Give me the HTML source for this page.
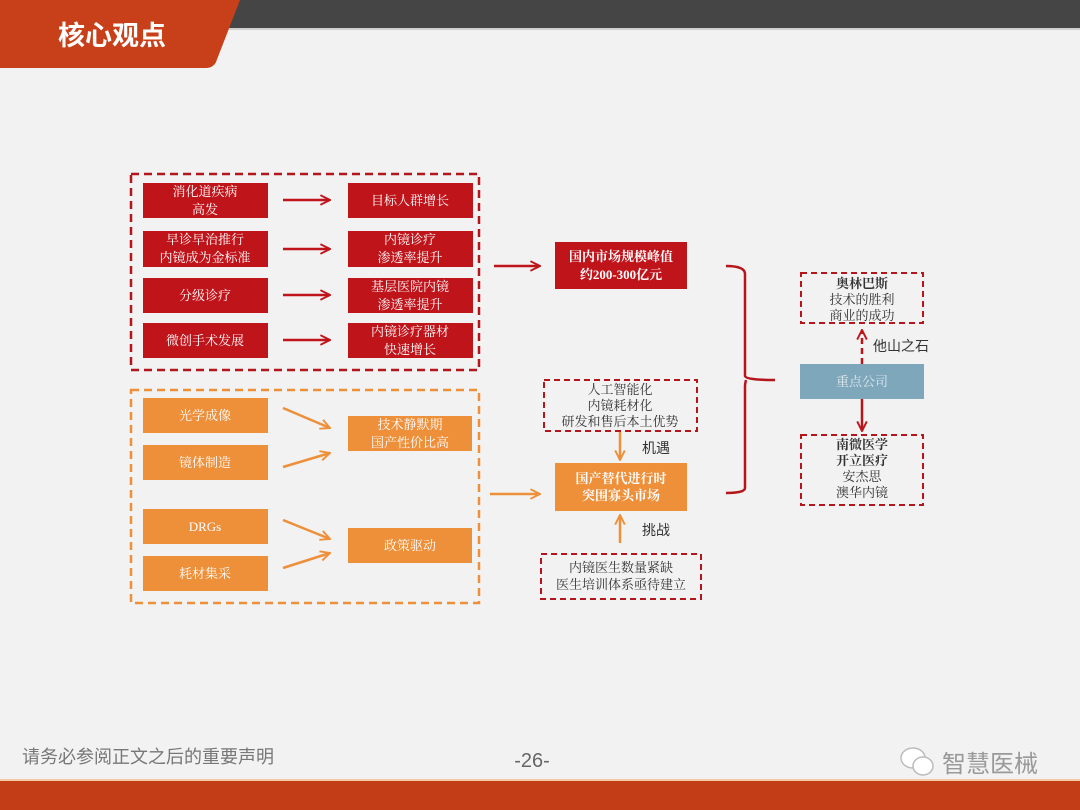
<!DOCTYPE html>
<html><head><meta charset="utf-8"><style>
html,body{margin:0;padding:0;width:1080px;height:810px;overflow:hidden;background:#f2f2f2}
svg{display:block}
.t{font-family:"Liberation Serif","Noto Serif CJK SC",serif;font-size:13px;text-anchor:middle}
</style></head><body>
<svg width="1080" height="810" viewBox="0 0 1080 810" xmlns="http://www.w3.org/2000/svg">
<defs>
<marker id="ar" viewBox="0 0 10 10" refX="9" refY="5" markerWidth="12" markerHeight="12" orient="auto" markerUnits="userSpaceOnUse"><path d="M1,1 L9,5 L1,9" fill="none" stroke="#c0141b" stroke-width="1.6"/></marker>
<marker id="ao" viewBox="0 0 10 10" refX="9" refY="5" markerWidth="12" markerHeight="12" orient="auto" markerUnits="userSpaceOnUse"><path d="M1,1 L9,5 L1,9" fill="none" stroke="#ee8f3a" stroke-width="1.6"/></marker>
</defs>
<rect x="0" y="0" width="1080" height="28" fill="#454545"/>
<rect x="0" y="28" width="1080" height="2" fill="#cfcfcf"/>
<path d="M0,0 L240,0 L216,62 Q213,68 206,68 L0,68 Z" fill="#c8401a"/>
<text x="112" y="45" font-family="'Liberation Sans','Noto Sans CJK SC',sans-serif" font-weight="bold" font-size="27" fill="#fff" text-anchor="middle">核心观点</text>

<rect x="131" y="174" width="348" height="196" fill="none" stroke="#b5161c" stroke-width="2.5" stroke-dasharray="8,5"/>
<g fill="#c0141b">
<rect x="143" y="183" width="125" height="35"/><rect x="143" y="231" width="125" height="36"/>
<rect x="143" y="278" width="125" height="35"/><rect x="143" y="323" width="125" height="35"/>
<rect x="348" y="183" width="125" height="35"/><rect x="348" y="231" width="125" height="36"/>
<rect x="348" y="278" width="125" height="35"/><rect x="348" y="323" width="125" height="35"/>
</g>
<g class="t" fill="#fff">
<text x="205" y="196">消化道疾病</text><text x="205" y="214">高发</text>
<text x="205" y="244">早诊早治推行</text><text x="205" y="262">内镜成为金标准</text>
<text x="205" y="300">分级诊疗</text>
<text x="205" y="345">微创手术发展</text>
<text x="410" y="205">目标人群增长</text>
<text x="410" y="244">内镜诊疗</text><text x="410" y="262">渗透率提升</text>
<text x="410" y="291">基层医院内镜</text><text x="410" y="309">渗透率提升</text>
<text x="410" y="336">内镜诊疗器材</text><text x="410" y="354">快速增长</text>
</g>
<g stroke="#c0141b" stroke-width="2.5" marker-end="url(#ar)">
<line x1="283" y1="200" x2="330" y2="200"/><line x1="283" y1="249" x2="330" y2="249"/>
<line x1="283" y1="295" x2="330" y2="295"/><line x1="283" y1="340" x2="330" y2="340"/>
<line x1="494" y1="266" x2="540" y2="266"/>
</g>

<rect x="131" y="390" width="348" height="213" fill="none" stroke="#ee8f3a" stroke-width="2.5" stroke-dasharray="8,5"/>
<g fill="#ee8f3a">
<rect x="143" y="398" width="125" height="35"/><rect x="143" y="445" width="125" height="35"/>
<rect x="143" y="509" width="125" height="35"/><rect x="143" y="556" width="125" height="35"/>
<rect x="348" y="416" width="124" height="35"/><rect x="348" y="528" width="124" height="35"/>
<rect x="555" y="463" width="132" height="48"/>
</g>
<g class="t" fill="#fff">
<text x="205" y="420">光学成像</text><text x="205" y="467">镜体制造</text>
<text x="205" y="531">DRGs</text><text x="205" y="578">耗材集采</text>
<text x="410" y="429">技术静默期</text><text x="410" y="447">国产性价比高</text>
<text x="410" y="550">政策驱动</text>
<text x="621" y="483" font-weight="bold">国产替代进行时</text><text x="621" y="500" font-weight="bold">突围寡头市场</text>
</g>
<g stroke="#ee8f3a" stroke-width="2.5" marker-end="url(#ao)">
<line x1="283" y1="408" x2="330" y2="428"/><line x1="283" y1="467" x2="330" y2="453"/>
<line x1="283" y1="520" x2="330" y2="539"/><line x1="283" y1="568" x2="330" y2="553"/>
<line x1="490" y1="494" x2="540" y2="494"/>
<line x1="620" y1="432" x2="620" y2="460"/><line x1="620" y1="543" x2="620" y2="515"/>
</g>

<rect x="555" y="242" width="132" height="47" fill="#c0141b"/>
<g class="t" fill="#fff" font-weight="bold"><text x="621" y="261">国内市场规模峰值</text><text x="621" y="279">约200-300亿元</text></g>

<g fill="none" stroke="#b5161c" stroke-width="2" stroke-dasharray="6,4">
<rect x="544" y="380" width="153" height="51"/>
<rect x="541" y="554" width="160" height="45"/>
<rect x="801" y="273" width="122" height="50"/>
<rect x="801" y="435" width="122" height="70"/>
</g>
<g class="t" fill="#333">
<text x="620" y="394">人工智能化</text><text x="620" y="410">内镜耗材化</text><text x="620" y="426">研发和售后本土优势</text>
<text x="621" y="572">内镜医生数量紧缺</text><text x="621" y="589">医生培训体系亟待建立</text>
<text x="862" y="288" font-weight="bold">奥林巴斯</text><text x="862" y="304">技术的胜利</text><text x="862" y="320">商业的成功</text>
<text x="862" y="449" font-weight="bold">南微医学</text><text x="862" y="465" font-weight="bold">开立医疗</text><text x="862" y="481">安杰思</text><text x="862" y="497">澳华内镜</text>
</g>
<g font-family="'Liberation Sans','Noto Sans CJK SC',sans-serif" font-size="14" fill="#333">
<text x="642" y="453">机遇</text><text x="642" y="535">挑战</text><text x="873" y="351">他山之石</text>
</g>

<path d="M726,266 Q745,266 745,274 L745,376 Q746,380 775,380 M746,380 Q745,384 745,386 L745,488 Q745,493 726,493" fill="none" stroke="#b5161c" stroke-width="2.5"/>
<rect x="800" y="364" width="124" height="35" fill="#7ea7bb"/>
<text x="862" y="386" class="t" fill="#dfe9ee">重点公司</text>
<line x1="862" y1="364" x2="862" y2="330" stroke="#b5161c" stroke-width="2.5" stroke-dasharray="6,4" marker-end="url(#ar)"/>
<line x1="862" y1="399" x2="862" y2="431" stroke="#b5161c" stroke-width="2.5" marker-end="url(#ar)"/>

<text x="22" y="763" font-family="'Liberation Sans','Noto Sans CJK SC',sans-serif" font-size="18" fill="#777">请务必参阅正文之后的重要声明</text>
<text x="532" y="767" font-family="'Liberation Sans',sans-serif" font-size="20" fill="#666" text-anchor="middle">-26-</text>
<g fill="#fff" stroke="#bbb" stroke-width="1.5"><ellipse cx="913" cy="758" rx="12" ry="10"/><ellipse cx="923" cy="766" rx="10" ry="9"/></g>
<text x="990" y="772" font-family="'Liberation Sans','Noto Sans CJK SC',sans-serif" font-size="24" fill="#999" text-anchor="middle">智慧医械</text>
<rect x="0" y="779" width="1080" height="2" fill="#f3c9a8"/>
<rect x="0" y="781" width="1080" height="29" fill="#c33e16"/>
</svg>
</body></html>
